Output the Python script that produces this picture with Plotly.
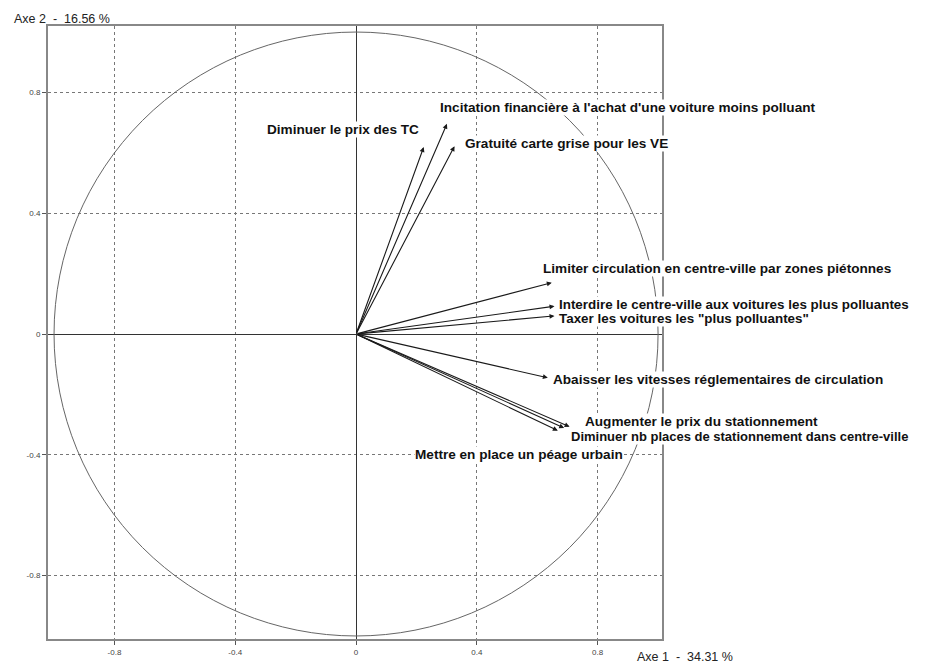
import plotly.graph_objects as go

# Variable names (French) and their coordinates on the factorial axes
variables = [
    "Diminuer le prix des TC",
    "Incitation financière à l'achat d'une voiture moins polluant",
    "Gratuité carte grise pour les VE",
    "Limiter circulation en centre-ville par zones piétonnes",
    "Interdire le centre-ville aux voitures les plus polluantes",
    "Taxer les voitures les \"plus polluantes\"",
    "Abaisser les vitesses réglementaires de circulation",
    "Augmenter le prix du stationnement",
    "Diminuer nb places de stationnement dans centre-ville",
    "Mettre en place un péage urbain",
]
axe1 = [0.224, 0.301, 0.326, 0.648, 0.657, 0.657, 0.635, 0.707, 0.689, 0.668]
axe2 = [0.619, 0.696, 0.622, 0.170, 0.092, 0.060, -0.145, -0.307, -0.311, -0.320]

tick_vals = [-0.8, -0.4, 0, 0.4, 0.8]
tick_text = ["-0.8", "-0.4", "0", "0.4", "0.8"]

axis1_title = "Axe 1\u00a0 -\u00a0 34.31 %"
axis2_title = "Axe 2\u00a0 -\u00a0 16.56 %"

# label placement (anchor, pixel offsets from arrow tips, font size)
label_style = [
    ("right", -4, 18, 13.6),
    ("left", -8, 16, 13.6),
    ("left", 9, 3, 13.6),
    ("left", -10, 14, 13.6),
    ("left", 4, 2, 13.4),
    ("left", 4, -3, 13.4),
    ("left", 4, -2, 13.6),
    ("left", 14, 5, 13.6),
    ("left", 6, -9, 13.0),
    ("right", 66, -24, 13.6),
]

W, H = 929, 664
ml, mr, mt, mb = 40, 275, 18, 33
pw, ph = W - ml - mr, H - mt - mb
ox, oy = 7, 6  # page offset of the rendered figure


def px_to_paper(px, py):
    return (px - ox - ml) / pw, (H - (py - oy) - mb) / ph


fig = go.Figure()
fig.add_trace(go.Scatter(x=[0], y=[0], mode="markers", marker=dict(opacity=0),
                         hoverinfo="skip", showlegend=False))

fig.add_shape(type="circle", xref="x", yref="y", x0=-1, y0=-1, x1=1, y1=1,
              line=dict(color="#666666", width=1), layer="between")

annotations = []
for name, xv, yv, (anchor, dx, dy, fs) in zip(variables, axe1, axe2, label_style):
    annotations.append(dict(
        x=xv, y=yv, xref="x", yref="y", text="<b>" + name + "</b>",
        showarrow=False, xanchor=anchor, yanchor="middle",
        xshift=dx, yshift=dy,
        font=dict(family="Liberation Sans, Arial, sans-serif", size=fs, color="#111111"),
        bgcolor="white", borderpad=0,
    ))
for xv, yv in zip(axe1, axe2):
    annotations.append(dict(
        x=xv, y=yv, xref="x", yref="y", ax=0, ay=0, axref="x", ayref="y",
        text="", showarrow=True, arrowhead=2, arrowsize=0.9, arrowwidth=1.1,
        arrowcolor="#1a1a1a", standoff=0, startstandoff=0,
    ))

title_font = dict(family="Liberation Sans Narrow, Arial Narrow, Liberation Sans, sans-serif",
                  size=12.5, color="#222222")
tx, ty = px_to_paper(11, 17)
annotations.append(dict(x=tx, y=ty, xref="paper", yref="paper", text=axis2_title,
                        showarrow=False, font=title_font, xanchor="left", yanchor="middle"))
tx, ty = px_to_paper(634, 655)
annotations.append(dict(x=tx, y=ty, xref="paper", yref="paper", text=axis1_title,
                        showarrow=False, font=title_font, xanchor="left", yanchor="middle"))

axis_common = dict(
    showgrid=True, gridcolor="#777777", griddash="dot", gridwidth=1,
    zeroline=True, zerolinecolor="#333333", zerolinewidth=1,
    showline=True, linecolor="#888888", linewidth=2, mirror=True,
    ticks="outside", ticklen=4, tickcolor="#555555",
    tickvals=tick_vals, ticktext=tick_text,
    tickfont=dict(family="Liberation Sans Narrow, Arial Narrow, sans-serif", size=8, color="#444444"),
    fixedrange=True,
)

fig.update_layout(
    width=W, height=H,
    margin=dict(l=ml, r=mr, t=mt, b=mb),
    paper_bgcolor="white", plot_bgcolor="white",
    xaxis=dict(range=[-1.020, 1.013], **axis_common),
    yaxis=dict(range=[-1.010, 1.020], **axis_common),
    annotations=annotations,
    showlegend=False,
)

fig.write_html("out.html")
